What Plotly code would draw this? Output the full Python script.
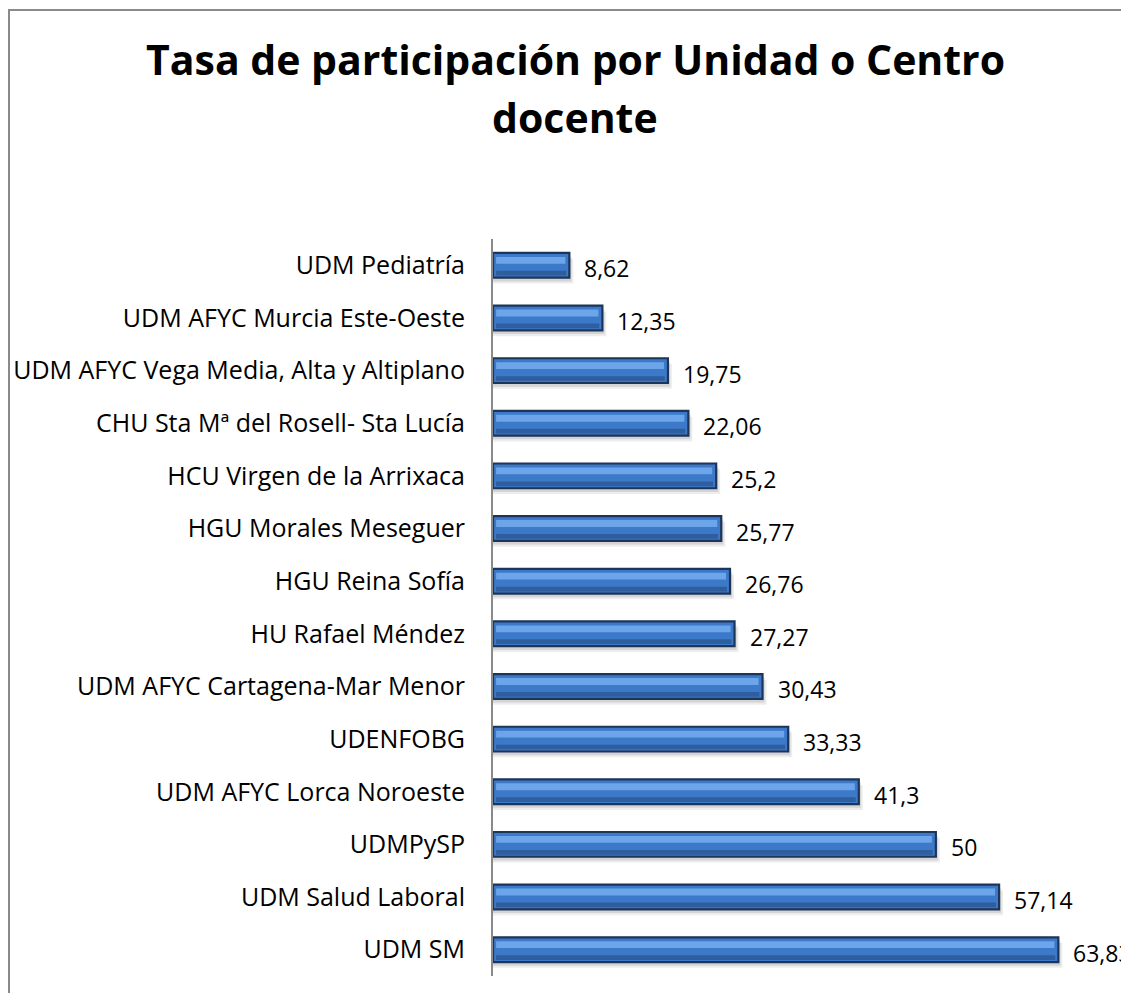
import plotly.graph_objects as go

categories = [
    "UDM Pediatría",
    "UDM AFYC Murcia Este-Oeste",
    "UDM AFYC Vega Media, Alta y Altiplano",
    "CHU Sta Mª del Rosell- Sta Lucía",
    "HCU Virgen de la Arrixaca",
    "HGU Morales Meseguer",
    "HGU Reina Sofía",
    "HU Rafael Méndez",
    "UDM AFYC Cartagena-Mar Menor",
    "UDENFOBG",
    "UDM AFYC Lorca Noroeste",
    "UDMPySP",
    "UDM Salud Laboral",
    "UDM SM",
]
values = [8.62, 12.35, 19.75, 22.06, 25.2, 25.77, 26.76, 27.27, 30.43, 33.33, 41.3, 50, 57.14, 63.83]
value_labels = ["8,62", "12,35", "19,75", "22,06", "25,2", "25,77", "26,76", "27,27",
                "30,43", "33,33", "41,3", "50", "57,14", "63,83"]
title_lines = ["Tasa de participación por Unidad o Centro", "docente"]

W = 0.47
FONT = "Open Sans"

fig = go.Figure()

# soft shadow layers
fig.add_trace(go.Bar(y=categories, x=[v + 0.45 for v in values], orientation="h",
                     width=W, offset=-W / 2 - 0.11, marker=dict(color="rgba(0,0,0,0.07)", line=dict(width=0)),
                     hoverinfo="skip", showlegend=False))
fig.add_trace(go.Bar(y=categories, x=[v + 0.25 for v in values], orientation="h",
                     width=W, offset=-W / 2 - 0.07, marker=dict(color="rgba(0,0,0,0.10)", line=dict(width=0)),
                     hoverinfo="skip", showlegend=False))
# main bar
fig.add_trace(go.Bar(y=categories, x=values, orientation="h",
                     width=W, offset=-W / 2, marker=dict(color="#3D79C9", line=dict(color="#1C3558", width=2.2)),
                     hoverinfo="skip", showlegend=False))
# lower darker band
fig.add_trace(go.Bar(y=categories, x=[v - 0.7 for v in values], base=0.35, orientation="h",
                     width=0.09, offset=-W / 2 + 0.04, marker=dict(color="#2E5E9E", line=dict(width=0)),
                     hoverinfo="skip", showlegend=False))
# upper highlight band
fig.add_trace(go.Bar(y=categories, x=[v - 0.8 for v in values], base=0.35, orientation="h",
                     width=0.13, offset=0.03, marker=dict(color="#6CA5EA", line=dict(width=0)),
                     hoverinfo="skip", showlegend=False))

for c, v, t in zip(categories, values, value_labels):
    fig.add_annotation(x=v, y=c, xref="x", yref="y", text=t, showarrow=False,
                       xanchor="left", yanchor="middle", xshift=13, yshift=-3,
                       font=dict(family=FONT, size=23, color="#000000"))

# title, two lines (page-pixel baselines ~77 and ~135)
for line, top_px in zip(title_lines, [29, 87]):
    fig.add_annotation(text=line, xref="paper", yref="paper",
                       x=(575 - 493) / 620, y=(976 - top_px) / 737, xanchor="center", yanchor="top",
                       showarrow=False, align="center",
                       font=dict(family=FONT, size=41, color="#000000", weight="bold"))

# chart border
fig.add_shape(type="rect", xref="paper", yref="paper",
              x0=(9 - 493) / 620, x1=(1150 - 493) / 620,
              y0=(976 - 1010) / 737, y1=(976 - 10) / 737,
              line=dict(color="#8A8A8A", width=2), fillcolor="rgba(0,0,0,0)", layer="below")

# margins compensate for the 8px page margin around the figure
fig.update_layout(
    width=1129, height=993,
    margin=dict(l=485, r=24, t=231, b=25, autoexpand=False),
    barmode="overlay",
    plot_bgcolor="white", paper_bgcolor="white",
    font=dict(family=FONT, color="#000000"),
    xaxis=dict(range=[0, 70], visible=False, showgrid=False, zeroline=False,
               fixedrange=True, automargin=False),
    yaxis=dict(categoryorder="array", categoryarray=list(reversed(categories)),
               showline=True, linecolor="#8A8A8A", linewidth=2, showgrid=False,
               ticks="", ticklabelstandoff=21, automargin=False,
               tickfont=dict(family=FONT, size=25, color="#000000")),
)

fig.write_html("out.html")
